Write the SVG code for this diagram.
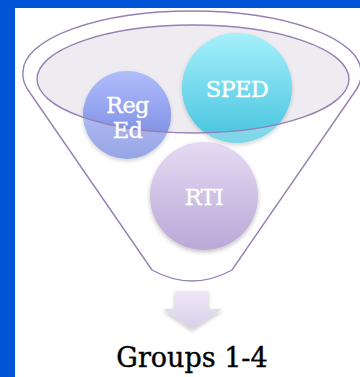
<svg xmlns="http://www.w3.org/2000/svg" width="360" height="377" viewBox="0 0 360 377">
  <defs>
    <style>
      .outline { fill: none; stroke: #9580B3; stroke-width: 1.4; }
      .lbl { font-family: "DejaVu Serif", "Liberation Serif", serif; font-size: 22.5px; letter-spacing: -0.6px; fill: #FFFFFF; stroke: #FFFFFF; stroke-width: 0.35; text-anchor: middle; }
      .cap { font-family: "DejaVu Serif", "Liberation Serif", serif; font-size: 27px; fill: #000000; stroke: #000000; stroke-width: 0.4; text-anchor: middle; }
    </style>
    <linearGradient id="gReg" x1="0" y1="0" x2="0" y2="1">
      <stop offset="0" stop-color="#B0BDFC"/>
      <stop offset="1" stop-color="#6F82DC"/>
    </linearGradient>
    <linearGradient id="gSped" x1="0" y1="0" x2="0" y2="1">
      <stop offset="0" stop-color="#A6F0FB"/>
      <stop offset="1" stop-color="#45C3DF"/>
    </linearGradient>
    <linearGradient id="gRti" x1="0" y1="0" x2="0" y2="1">
      <stop offset="0" stop-color="#E5DAF3"/>
      <stop offset="1" stop-color="#BAA8D7"/>
    </linearGradient>
    <linearGradient id="gArrow" x1="0" y1="0" x2="0" y2="1">
      <stop offset="0" stop-color="#EDE7F7"/>
      <stop offset="1" stop-color="#D9D0E8"/>
    </linearGradient>
    <filter id="shadow" x="-20%" y="-20%" width="140%" height="150%">
      <feDropShadow dx="0" dy="2" stdDeviation="2" flood-color="#000000" flood-opacity="0.25"/>
    </filter>
    <clipPath id="inside">
      <ellipse cx="193" cy="79" rx="156" ry="54"/>
    </clipPath>
  </defs>

  <rect x="0" y="0" width="360" height="377" fill="#0056D6"/>
  <rect x="15" y="8" width="345" height="369" fill="#FFFFFF"/>

  <g id="funnel">
    <path class="outline" fill="#FFFFFF" d="M152,270 L28,90 Q22,81 23,72 A169,61 0 0 1 361,72 Q362,81 356,90 L232,270 Q192,292 152,270 Z"/>
    <ellipse cx="193" cy="79" rx="156" ry="54" fill="#EEEBF1"/>
  </g>

  <g id="node-rti">
    <circle cx="204" cy="196" r="54" fill="url(#gRti)" filter="url(#shadow)"/>
    <text class="lbl" x="204" y="205">RTI</text>
  </g>

  <g id="node-reged">
    <circle cx="127" cy="115" r="44" fill="url(#gReg)" opacity="0.72" filter="url(#shadow)"/>
    <circle cx="127" cy="115" r="44" fill="url(#gReg)" clip-path="url(#inside)"/>
  </g>

  <g id="node-sped">
    <circle cx="237" cy="88" r="55" fill="url(#gSped)" opacity="0.7" filter="url(#shadow)"/>
    <circle cx="237" cy="88" r="55" fill="url(#gSped)" clip-path="url(#inside)"/>
  </g>

  <ellipse class="outline" cx="193" cy="79" rx="156" ry="54"/>

  <g id="labels">
    <text class="lbl" x="127.5" y="113">Reg</text>
    <text class="lbl" x="127.5" y="138">Ed</text>
    <text class="lbl" x="237" y="97">SPED</text>
  </g>

  <g id="connectors">
    <path d="M175,291 L208,291 L208,309 L222,309 L192,329 L163,309 L175,309 Z" fill="url(#gArrow)" filter="url(#shadow)"/>
  </g>

  <g id="node-groups">
    <text class="cap" x="192" y="367">Groups 1-4</text>
  </g>
</svg>
